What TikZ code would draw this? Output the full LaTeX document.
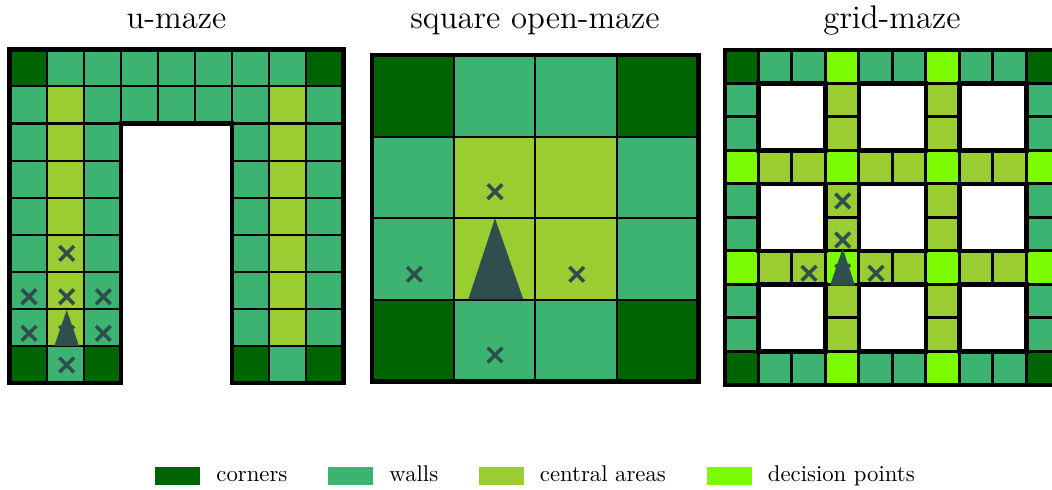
\documentclass[tikz,border=0pt]{standalone}
\definecolor{cCorner}{RGB}{0,100,0}
\definecolor{cWall}{RGB}{60,179,113}
\definecolor{cCentral}{RGB}{154,205,50}
\definecolor{cDecision}{RGB}{124,252,0}
\definecolor{cMark}{RGB}{47,79,79}
\newcommand\mazeX[2]{\draw[xmk] (#1,#2) +(-7.3,-7.3) -- +(7.3,7.3) +(-7.3,7.3) -- +(7.3,-7.3);}
\begin{document}
\begin{tikzpicture}[x=0.44pt,y=-0.44pt,
  cellbox/.style={draw=black,line width=0.95pt},
  gcellbox/.style={draw=black,line width=1.2pt},
  thickborder/.style={draw=black,line width=2pt,line join=miter},
  xmk/.style={draw=cMark,line width=1.55pt},
  agent/.style={fill=cMark},
  title/.style={font=\Large,anchor=base,inner sep=0pt},
  legtext/.style={font=\normalsize,anchor=base west,inner sep=0pt},
  swatch/.style={inner sep=0pt,minimum width=19.8pt,minimum height=7.9pt,anchor=north west}]
\useasboundingbox (0,0) rectangle (1052,489);
\clip (0,0) rectangle (1052,489);

% titles
\node[title] (t1) at (176.5,28) {u-maze};
\node[title] (t2) at (535,28) {square open-maze};
\node[title] (t3) at (892,28) {grid-maze};

% ---------------- u-maze ----------------
\begin{scope}[shift={(9.5,49.3)},x=16.32pt,y=-16.32pt]
  \foreach \c in {0,...,8} \foreach \r in {0,1}
    \filldraw[cellbox,fill=cWall] (\c,\r) rectangle +(1,1);
  \foreach \c in {0,1,2,6,7,8} \foreach \r in {2,...,8}
    \filldraw[cellbox,fill=cWall] (\c,\r) rectangle +(1,1);
  \foreach \c in {1,7} \foreach \r in {1,...,7}
    \filldraw[cellbox,fill=cCentral] (\c,\r) rectangle +(1,1);
  \foreach \p in {(0,0),(8,0),(0,8),(2,8),(6,8),(8,8)}
    \filldraw[cellbox,fill=cCorner] \p rectangle +(1,1);
  \draw[thickborder] (0,0) -- (9,0) -- (9,9) -- (6,9) -- (6,2) -- (3,2) -- (3,9) -- (0,9) -- cycle;
\end{scope}
\mazeX{66.7}{253.3}
\mazeX{29}{296.7}
\mazeX{66.7}{296.7}
\mazeX{103.3}{296.7}
\mazeX{29}{333.3}
\mazeX{66.7}{333.3}
\mazeX{103.3}{333.3}
\mazeX{66.7}{365}
\fill[agent] (66.7,310) -- (79,346) -- (54.3,346) -- cycle;

% ---------------- square open-maze ----------------
\begin{scope}[shift={(372,55)},x=35.9pt,y=-35.9pt]
  \foreach \c in {0,...,3} \foreach \r in {0,...,3}
    \filldraw[cellbox,fill=cWall] (\c,\r) rectangle +(1,1);
  \foreach \c in {1,2} \foreach \r in {1,2}
    \filldraw[cellbox,fill=cCentral] (\c,\r) rectangle +(1,1);
  \foreach \p in {(0,0),(3,0),(0,3),(3,3)}
    \filldraw[cellbox,fill=cCorner] \p rectangle +(1,1);
  \draw[thickborder] (0,0) rectangle (4,4);
\end{scope}
\mazeX{495}{191.7}
\mazeX{414.3}{274.3}
\mazeX{576.7}{274.3}
\mazeX{495}{355}
\fill[agent] (495,218.3) -- (523.3,299.3) -- (468.3,299.3) -- cycle;

% ---------------- grid-maze ----------------
\begin{scope}[shift={(724.8,49.8)},x=14.74pt,y=-14.74pt]
  \foreach \i in {0,...,9} {
    \filldraw[gcellbox,fill=cWall] (\i,0) rectangle +(1,1);
    \filldraw[gcellbox,fill=cWall] (\i,9) rectangle +(1,1);
    \filldraw[gcellbox,fill=cWall] (0,\i) rectangle +(1,1);
    \filldraw[gcellbox,fill=cWall] (9,\i) rectangle +(1,1);
  }
  \foreach \a in {3,6} \foreach \b in {1,2,4,5,7,8} {
    \filldraw[gcellbox,fill=cCentral] (\b,\a) rectangle +(1,1);
    \filldraw[gcellbox,fill=cCentral] (\a,\b) rectangle +(1,1);
  }
  \foreach \a in {0,3,6,9} \foreach \b in {0,3,6,9}
    \filldraw[gcellbox,fill=cDecision] (\a,\b) rectangle +(1,1);
  \foreach \p in {(0,0),(9,0),(0,9),(9,9)}
    \filldraw[gcellbox,fill=cCorner] \p rectangle +(1,1);
  \draw[thickborder] (0,0) rectangle (10,10);
  \foreach \a in {1,4,7} \foreach \b in {1,4,7}
    \draw[thickborder] (\a,\b) rectangle +(2,2);
\end{scope}
\mazeX{842.7}{201}
\mazeX{842.7}{240}
\mazeX{809}{273.3}
\mazeX{876}{273.3}
\mazeX{842.7}{272}
\fill[agent] (842.7,248.3) -- (855,285.7) -- (830,285.7) -- cycle;

% ---------------- legend ----------------
\node[swatch,fill=cCorner] (s1) at (155,466.5) {};
\node[legtext] (l1) at (216,481.5) {corners};
\node[swatch,fill=cWall] (s2) at (328,466.5) {};
\node[legtext] (l2) at (389,481.5) {walls};
\node[swatch,fill=cCentral] (s3) at (479,466.5) {};
\node[legtext] (l3) at (539.5,481.5) {central areas};
\node[swatch,fill=cDecision] (s4) at (706.5,466.5) {};
\node[legtext] (l4) at (767.5,481.5) {decision points};
\end{tikzpicture}
\end{document}
